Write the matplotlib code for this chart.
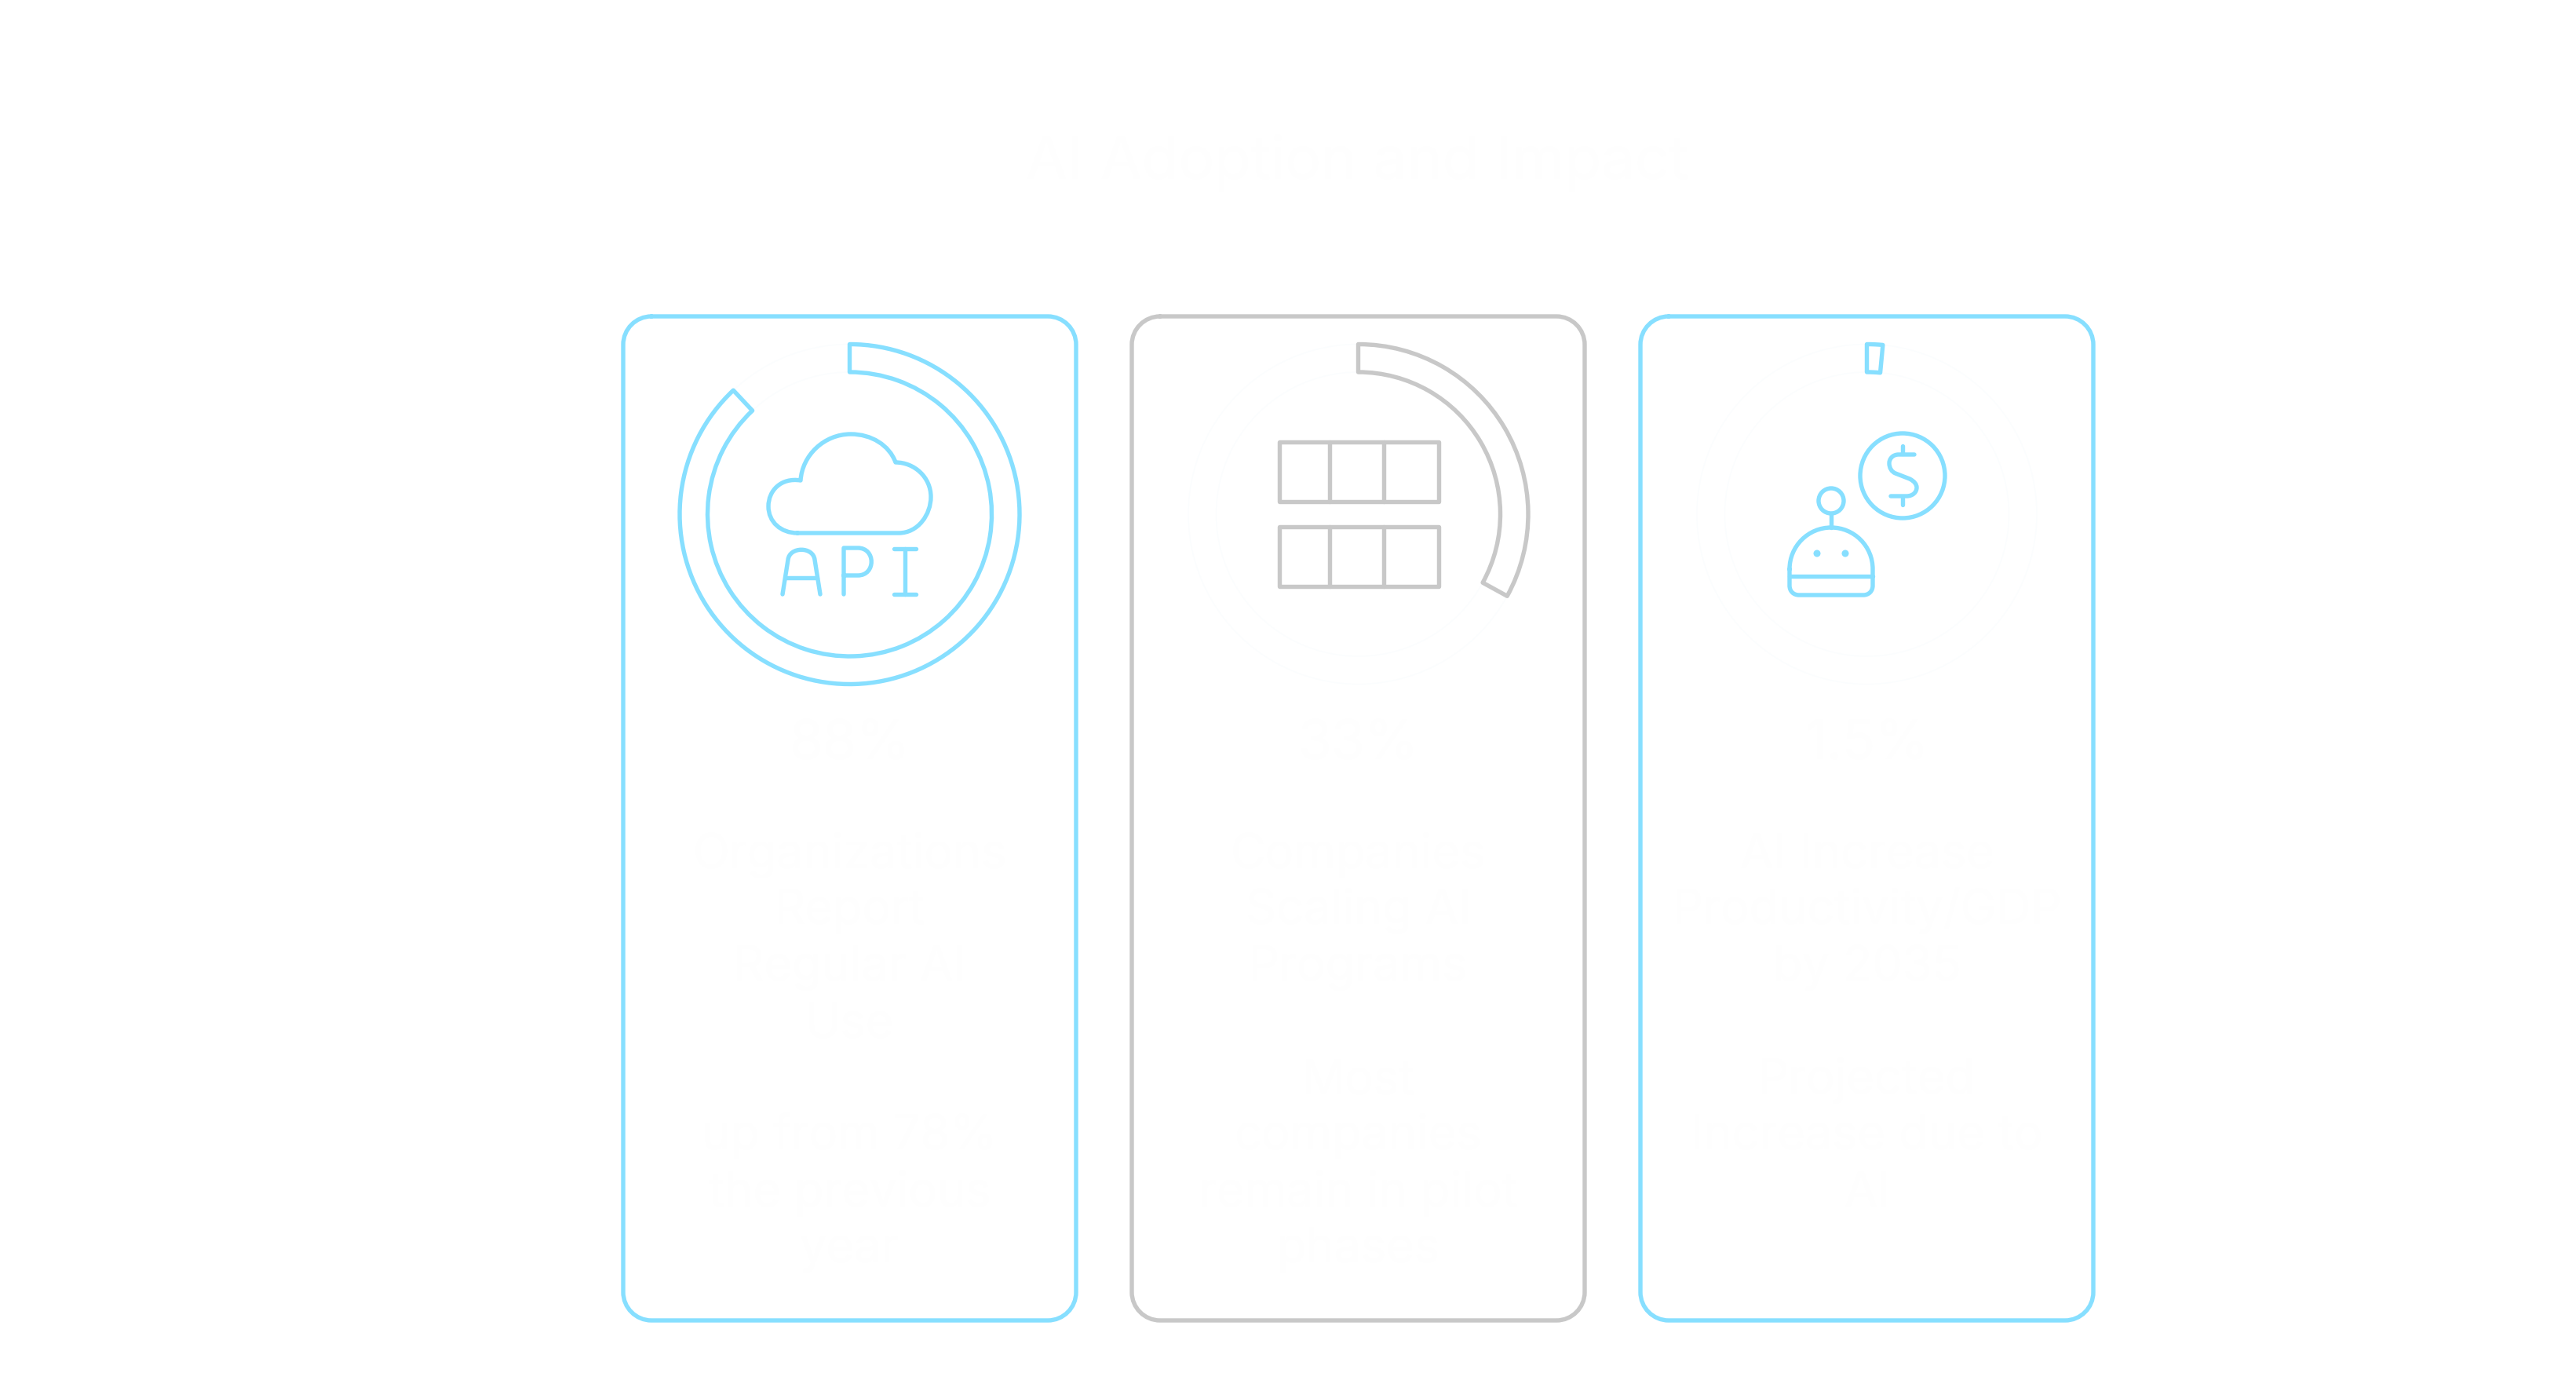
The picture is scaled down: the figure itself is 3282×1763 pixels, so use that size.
"""AI adoption cards: three stat panels with progress rings and line icons."""

import matplotlib
matplotlib.use("Agg")
import matplotlib.pyplot as plt
from matplotlib.patches import Circle, PathPatch, Rectangle, Wedge
from matplotlib.path import Path

TITLE = "AI Adoption and Impact"
PERCENTS = [88, 33, 1.5]
PERCENT_LABELS = ["88%", "33%", "1.5%"]
HEADLINES = [
    ["Organizations", "Report", "Regular AI", "Use"],
    ["Companies", "Scaling AI", "Programs"],
    ["AI Increase", "Productivity/GDP", "by 2035"],
]
DETAILS = [
    ["up from 78%", "the previous", "year"],
    ["Most", "companies", "remain in pilot", "phases"],
    ["Projected", "Increase due to", "AI"],
]
DETAIL_START_ROW = [5, 4, 4]

BLUE = "#87DFFF"
GRAY = "#C8C8C8"
CARD_COLORS = [BLUE, GRAY, BLUE]
TEXT_COLOR = "#FEFEFE"  # white-on-white in the source picture
TRACK_COLOR = "#FBFDFE"

WIDTH, HEIGHT = 3282, 1763
LW = 3.9
CARD_X = [794, 1442, 2090]
CARD_W = 577
CARD_TOP, CARD_BOTTOM = 403, 1682
CARD_R = 36
RING_Y = 655
RING_OUT, RING_IN = 216.5, 181
FONT = "Inter"


def stroke(ax, verts, codes=None, color=BLUE, lw=LW):
    path = Path(verts, codes) if codes else Path(verts)
    ax.add_patch(PathPatch(path, fill=False, edgecolor=color, lw=lw, capstyle="round", joinstyle="round"))


def draw_card(ax, x0, color):
    x1, y0, y1, r = x0 + CARD_W, CARD_TOP, CARD_BOTTOM, CARD_R
    k = r * (1 - 0.5523)
    verts = [
        (x0 + r, y0), (x1 - r, y0),
        (x1 - k, y0), (x1, y0 + k), (x1, y0 + r),
        (x1, y1 - r),
        (x1, y1 - k), (x1 - k, y1), (x1 - r, y1),
        (x0 + r, y1),
        (x0 + k, y1), (x0, y1 - k), (x0, y1 - r),
        (x0, y0 + r),
        (x0, y0 + k), (x0 + k, y0), (x0 + r, y0),
    ]
    codes = [Path.MOVETO, Path.LINETO] + [Path.CURVE4] * 3 + [Path.LINETO] + [Path.CURVE4] * 3
    codes += [Path.LINETO] + [Path.CURVE4] * 3 + [Path.LINETO] + [Path.CURVE4] * 3
    stroke(ax, verts, codes, color=color)


def draw_ring(ax, cx, pct, color):
    sweep = 360 * pct / 100
    width = RING_OUT - RING_IN
    ax.add_patch(Wedge((cx, RING_Y), RING_OUT, -90 + sweep, 270, width=width, facecolor="none", edgecolor=TRACK_COLOR, lw=1.0))
    ax.add_patch(Wedge((cx, RING_Y), RING_OUT, -90, -90 + sweep, width=width, facecolor="none", edgecolor=color, lw=LW, joinstyle="round"))


def draw_api_icon(ax):
    cloud = [
        (1016, 679), (1145, 679),
        (1170, 679), (1186, 655), (1186, 633),
        (1186, 608), (1165, 589), (1141, 589),
        (1133, 567), (1110, 553), (1084, 553),
        (1050, 553), (1022, 580), (1020, 612),
        (995, 608), (979, 625), (979, 645),
        (979, 665), (995, 679), (1016, 679),
    ]
    codes = [Path.MOVETO, Path.LINETO] + [Path.CURVE4] * 18
    stroke(ax, cloud, codes)
    # A
    stroke(ax, [(997, 757), (1004, 713), (1006, 696), (1036, 696), (1038, 713), (1045, 757)],
           [Path.MOVETO, Path.LINETO, Path.CURVE4, Path.CURVE4, Path.CURVE4, Path.LINETO])
    stroke(ax, [(1001, 736), (1041, 736)])
    # P
    stroke(ax, [(1075, 757), (1075, 698), (1093, 698), (1116, 698), (1116, 733), (1093, 733), (1075, 733)],
           [Path.MOVETO, Path.LINETO, Path.LINETO, Path.CURVE4, Path.CURVE4, Path.CURVE4, Path.LINETO])
    # I
    stroke(ax, [(1153, 699), (1153, 757)])
    stroke(ax, [(1139, 699), (1167, 699)])
    stroke(ax, [(1139, 757), (1167, 757)])


def draw_table_icon(ax):
    for top, bottom in [(563, 639), (671, 747)]:
        ax.add_patch(Rectangle((1630, top), 203, bottom - top, fill=False, edgecolor=GRAY, lw=LW, joinstyle="round"))
        for x in (1694, 1762.5):
            stroke(ax, [(x, top), (x, bottom)], color=GRAY)


def draw_robot_icon(ax):
    ax.add_patch(Circle((2424, 606), 54, fill=False, edgecolor=BLUE, lw=LW))
    stroke(ax, [(2424, 568), (2424, 578)])
    stroke(ax, [(2424, 635), (2424, 643)])
    dollar = [
        (2439, 579), (2419, 579),
        (2411, 579), (2407, 585), (2407, 590),
        (2407, 596), (2410, 601), (2415, 603),
        (2433, 610),
        (2439, 613), (2442, 617), (2442, 621),
        (2442, 627), (2437, 632), (2429, 632),
        (2409, 632),
    ]
    codes = [Path.MOVETO, Path.LINETO] + [Path.CURVE4] * 6 + [Path.LINETO] + [Path.CURVE4] * 6 + [Path.LINETO]
    stroke(ax, dollar, codes)
    ax.add_patch(Circle((2333, 638), 16, fill=False, edgecolor=BLUE, lw=LW))
    stroke(ax, [(2333, 654), (2333, 672)])
    k = 53 * 0.5523
    head = [
        (2280, 725),
        (2280, 725 - k), (2333 - k, 672), (2333, 672),
        (2333 + k, 672), (2386, 725 - k), (2386, 725),
        (2386, 746),
        (2386, 753), (2381, 758), (2374, 758),
        (2292, 758),
        (2285, 758), (2280, 753), (2280, 746),
        (2280, 725),
    ]
    codes = [Path.MOVETO] + [Path.CURVE4] * 6 + [Path.LINETO] + [Path.CURVE4] * 3 + [Path.LINETO] + [Path.CURVE4] * 3 + [Path.LINETO]
    stroke(ax, head, codes)
    stroke(ax, [(2280, 734), (2386, 734)])
    for x in (2315, 2351):
        ax.add_patch(Circle((x, 705), 4.5, facecolor=BLUE, edgecolor="none"))


def draw_text(ax, cx, idx):
    ax.text(cx, 968, PERCENT_LABELS[idx], ha="center", va="baseline", fontsize=50, color=TEXT_COLOR, family=FONT)
    row_y = [1106, 1177, 1249, 1322, 1393, 1464, 1537, 1608]
    for i, line in enumerate(HEADLINES[idx]):
        ax.text(cx, row_y[i], line, ha="center", va="baseline", fontsize=44, color=TEXT_COLOR, family=FONT)
    for i, line in enumerate(DETAILS[idx]):
        ax.text(cx, row_y[DETAIL_START_ROW[idx] + i], line, ha="center", va="baseline", fontsize=44, color=TEXT_COLOR, family=FONT)


def build():
    fig = plt.figure(figsize=(WIDTH / 100, HEIGHT / 100), dpi=100)
    ax = fig.add_axes([0, 0, 1, 1])
    ax.set_xlim(0, WIDTH)
    ax.set_ylim(HEIGHT, 0)
    ax.set_axis_off()

    ax.text(1729, 228, TITLE, ha="center", va="baseline", fontsize=55, color=TEXT_COLOR, family=FONT)
    for idx, x0 in enumerate(CARD_X):
        color = CARD_COLORS[idx]
        draw_card(ax, x0, color)
        cx = x0 + CARD_W / 2
        draw_ring(ax, cx, PERCENTS[idx], color)
        draw_text(ax, cx, idx)
    draw_api_icon(ax)
    draw_table_icon(ax)
    draw_robot_icon(ax)
    return fig


def main():
    fig = build()
    fig.savefig("out.png", dpi=100, facecolor="white")
    plt.close(fig)


if __name__ == "__main__":
    main()
